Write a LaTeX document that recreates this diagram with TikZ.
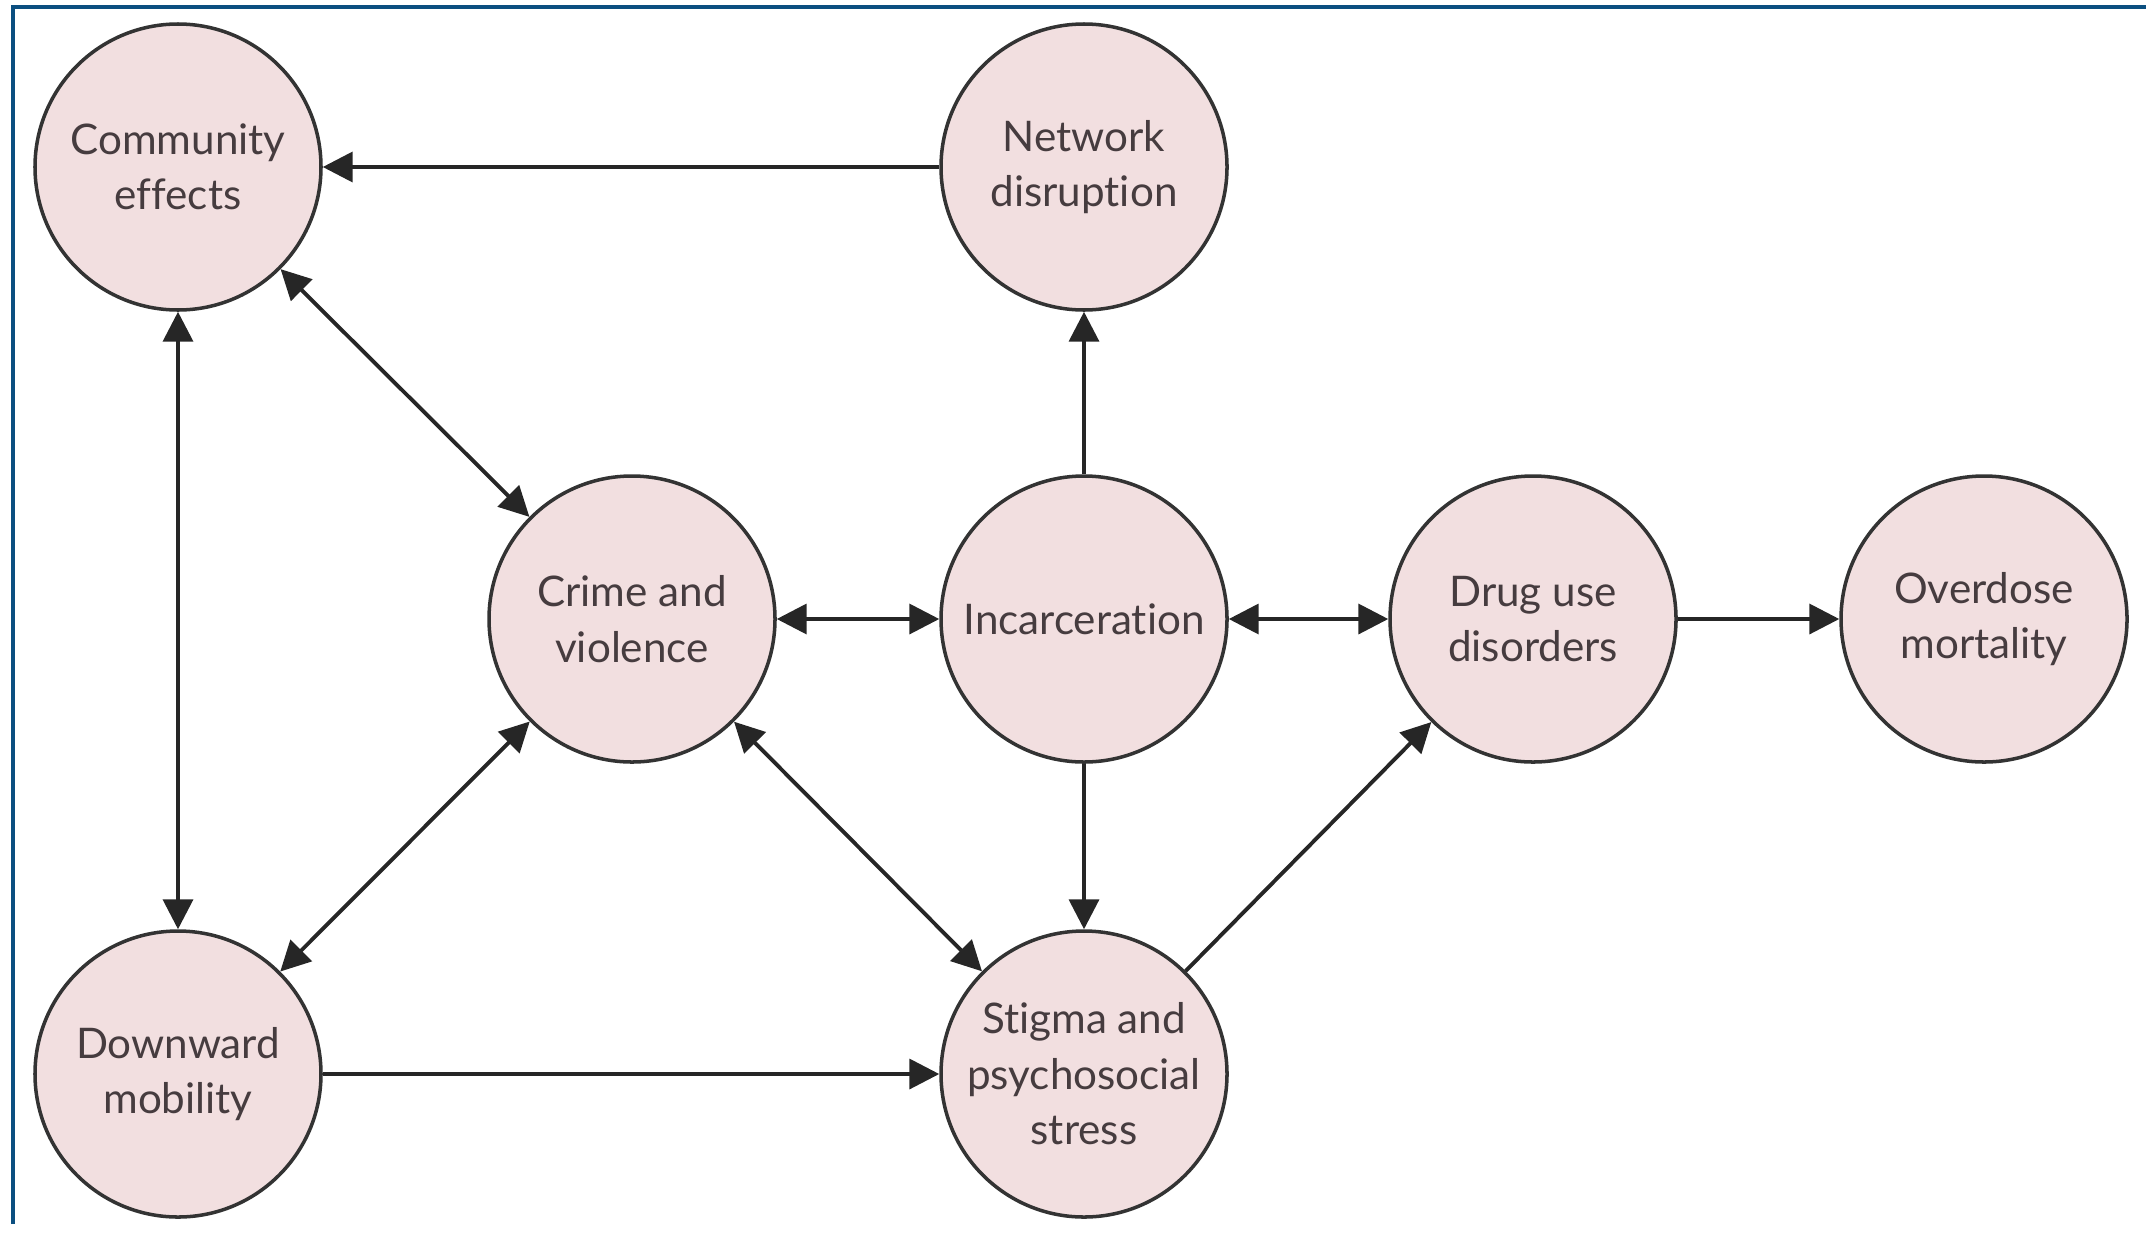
\documentclass[tikz,border=0pt]{standalone}
\usepackage{fontspec}
\setmainfont{Lato}[Ligatures=NoCommon]
\usetikzlibrary{arrows.meta}

\definecolor{circfill}{RGB}{242,223,224}
\definecolor{framblue}{RGB}{11,79,128}
\definecolor{txtgray}{RGB}{70,60,63}

\begin{document}
\begin{tikzpicture}[
		factor/.style={circle, draw=black!80, line width=1pt, fill=circfill,
			minimum size=2.86cm, inner sep=0pt, align=center, text=txtgray,
			font=\fontsize{12}{15.8}\selectfont},
		link/.style={line width=1.1pt, black!85, -{Triangle[length=8.5pt,width=8.5pt]}},
		dlink/.style={link, {Triangle[length=8.5pt,width=8.5pt]}-{Triangle[length=8.5pt,width=8.5pt]}}
	]
  \useasboundingbox (0,0) rectangle (21.46,12.34);
  \draw[framblue, line width=1.1pt] (0.13,0.1) -- (0.13,12.27) -- (21.46,12.27);

  \node (comm_eff) [factor] at (1.78cm, 10.67cm) {Community\\effects};
  \node (net_dis) [factor] at (10.84cm, 10.67cm) {Network\\disruption};
  \node (crime) [factor] at (6.32cm, 6.15cm) {Crime and\\violence};
  \node (incarc) [factor] at (10.84cm, 6.15cm) {Incarceration};
  \node (drug_use) [factor] at (15.33cm, 6.15cm) {Drug use\\disorders};
  \node (overdose) [factor] at (19.84cm, 6.15cm) {Overdose\\mortality};
  \node (down_mob) [factor] at (1.78cm, 1.60cm) {Downward\\mobility};
  \node (stigma) [factor] at (10.84cm, 1.60cm) {Stigma and\\psychosocial\\stress};

  \draw [link] (net_dis) -- (comm_eff);
  \draw [dlink] (comm_eff) -- (crime);
  \draw [dlink] (comm_eff) -- (down_mob);
  \draw [dlink] (crime) -- (down_mob);
  \draw [dlink] (crime) -- (incarc);
  \draw [link] (incarc) -- (net_dis);
  \draw [dlink] (incarc) -- (drug_use);
  \draw [link] (drug_use) -- (overdose);
  \draw [link] (incarc) -- (stigma);
  \draw [dlink] (crime) -- (stigma);
  \draw [link] (down_mob) -- (stigma);
  \draw [link] (stigma) -- (drug_use);
\end{tikzpicture}
\end{document}
